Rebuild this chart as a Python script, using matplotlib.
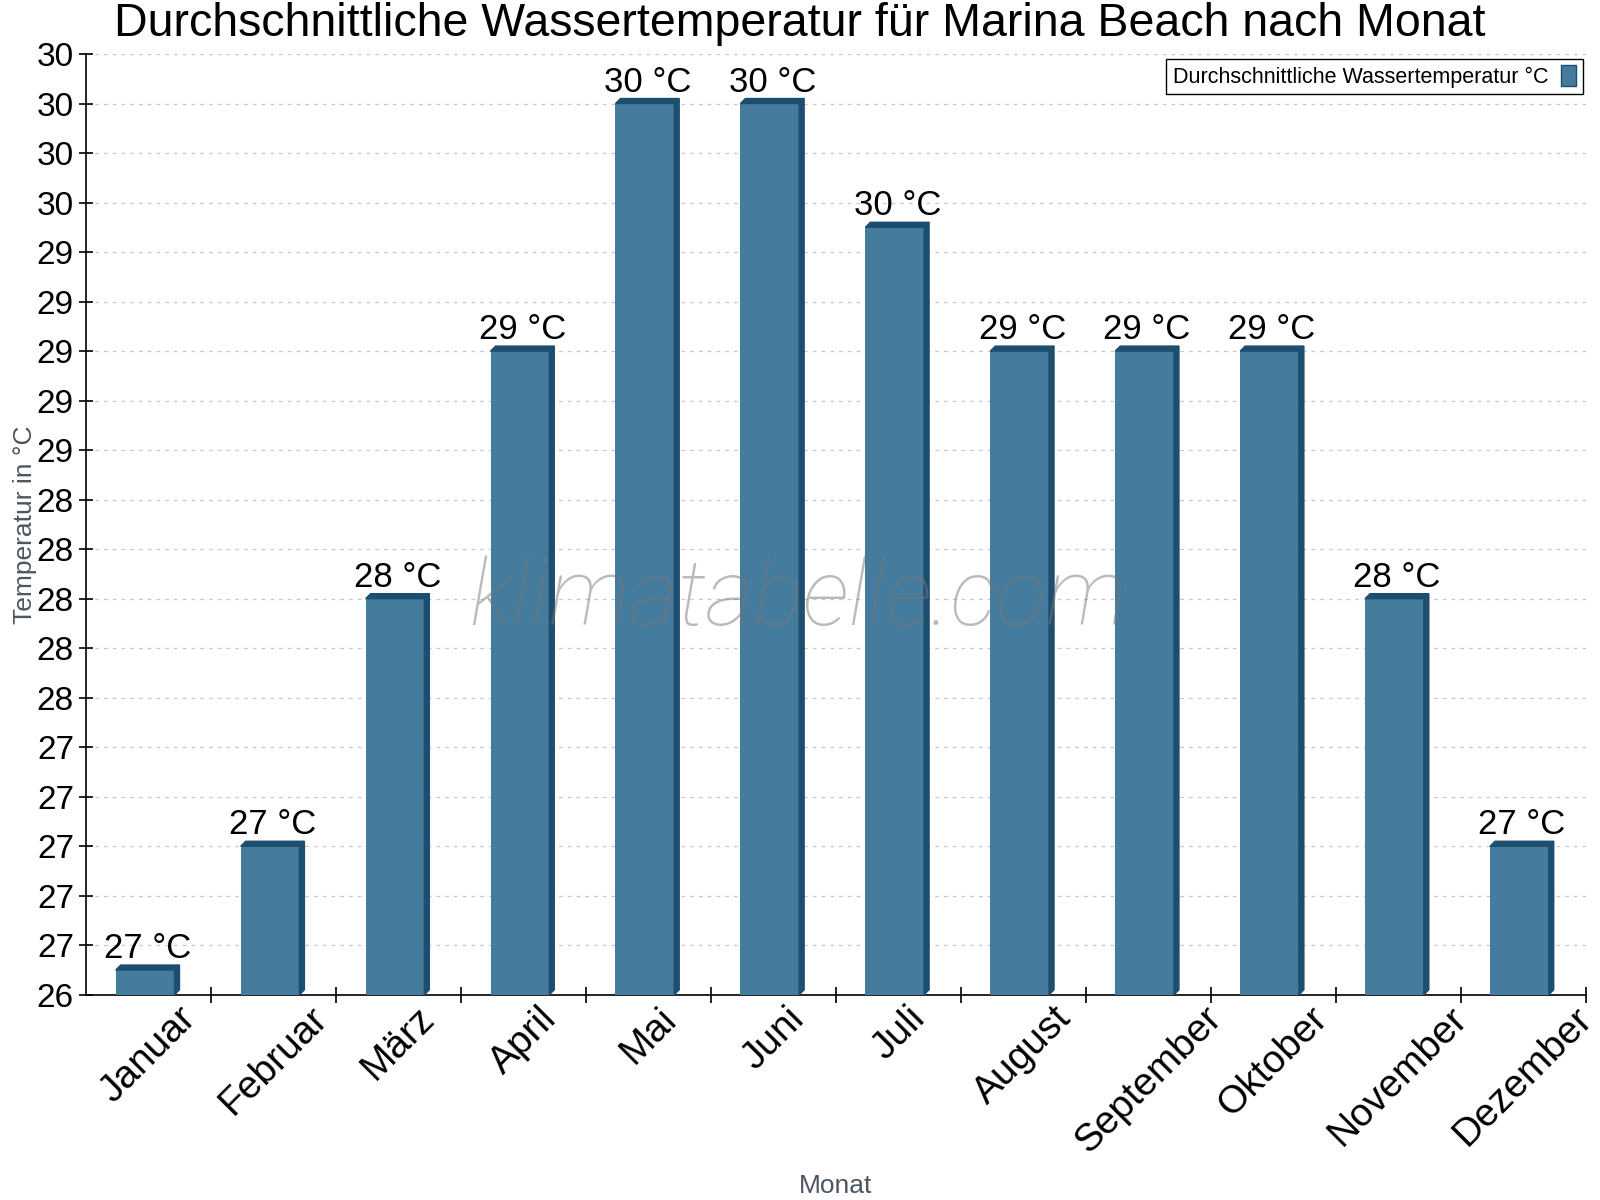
import matplotlib.pyplot as plt
from matplotlib.patches import Polygon
import math

plt.rcParams['font.family'] = ['Liberation Sans', 'DejaVu Sans']

# Data values
monate = ["Januar", "Februar", "März", "April", "Mai", "Juni", "Juli",
          "August", "September", "Oktober", "November", "Dezember"]
temperatur = [26.5, 27, 28, 29, 30, 30, 29.5, 29, 29, 29, 28, 27]
y_min = 26.4
y_max = 30.2
y_step = 0.2

front = "#457b9d"
dark = "#1d4e6f"

fig = plt.figure(figsize=(16, 12), dpi=100)
ax = fig.add_axes([0.054, 0.171, 0.937, 0.784])

x = list(range(len(monate)))
bw = 0.47
shift = -0.03
ax.set_xlim(-0.5, len(monate) - 0.5)
ax.set_ylim(y_min, y_max)

bars = ax.bar([i + shift for i in x], [t - y_min for t in temperatur], bottom=y_min,
              width=bw, color=front, zorder=3, label="Durchschnittliche Wassertemperatur °C")

# 3D-ish top and side faces, depth ~5px
fig.canvas.draw()
bbox = ax.get_window_extent()
dx = 5 * (len(monate)) / bbox.width
dy = 5 * (y_max - y_min) / bbox.height
for b in bars:
    x0 = b.get_x()
    x1 = x0 + b.get_width()
    top = b.get_y() + b.get_height()
    ax.add_patch(Polygon([(x0, top), (x1, top), (x1 + dx, top + dy), (x0 + dx, top + dy)],
                         closed=True, color=dark, zorder=3, clip_on=False))
    ax.add_patch(Polygon([(x1, y_min), (x1 + dx, y_min + dy), (x1 + dx, top + dy), (x1, top)],
                         closed=True, color=dark, zorder=3, clip_on=False))
    ax.text(b.get_x() + b.get_width() / 2 + dx / 2, top + dy, "%d °C" % math.floor(top + 0.5),
            ha="center", va="bottom", fontsize=25, zorder=4)

# y ticks
n = int(round((y_max - y_min) / y_step))
yt = [y_min + k * y_step for k in range(n + 1)]
ax.set_yticks(yt)
ax.set_yticklabels([str(math.floor(v + 0.5 + 1e-9)) for v in yt], fontsize=24)
ax.tick_params(axis="y", direction="inout", length=10, width=1.2, pad=4)

# x ticks: labels at centers, ticks at boundaries
ax.set_xticks(x)
ax.set_xticklabels(monate, rotation=45, ha="center", fontsize=28)
ax.tick_params(axis="x", length=0, pad=4)
ax.set_xticks([i + 0.5 for i in x], minor=True)
ax.tick_params(axis="x", which="minor", direction="inout", length=12, width=1.2)

ax.grid(axis="y", linestyle=(0, (3, 4)), color="#c8c8c8", linewidth=0.9, zorder=0)
ax.spines["top"].set_visible(False)
ax.spines["right"].set_visible(False)
ax.spines["left"].set_linewidth(1.2)
ax.spines["bottom"].set_linewidth(1.2)

ax.set_ylabel("Temperatur in °C", fontsize=19, color="#4d5660", labelpad=0)
ax.set_xlabel("Monat", fontsize=19, color="#4d5660", labelpad=10)
fig.suptitle("Durchschnittliche Wassertemperatur für Marina Beach nach Monat",
             fontsize=33.5, y=0.998, x=0.5)

leg = ax.legend(loc="upper right", fontsize=15.5, markerfirst=False, fancybox=False,
                framealpha=1, edgecolor="black", handlelength=0.7, handleheight=1.1,
                borderaxespad=0.0, borderpad=0.3, handletextpad=0.6,
                bbox_to_anchor=(0.998, 0.995))
leg.get_frame().set_linewidth(1.0)
for h in leg.legend_handles:
    h.set_edgecolor(dark)
    h.set_linewidth(1.0)

ax.text(0.475, 0.42, "klimatabelle.com", transform=ax.transAxes, ha="center", va="center",
        fontsize=67, family="Roboto", fontweight="light", style="italic",
        color="#777777", alpha=0.5, zorder=5)

plt.savefig("out.png")
